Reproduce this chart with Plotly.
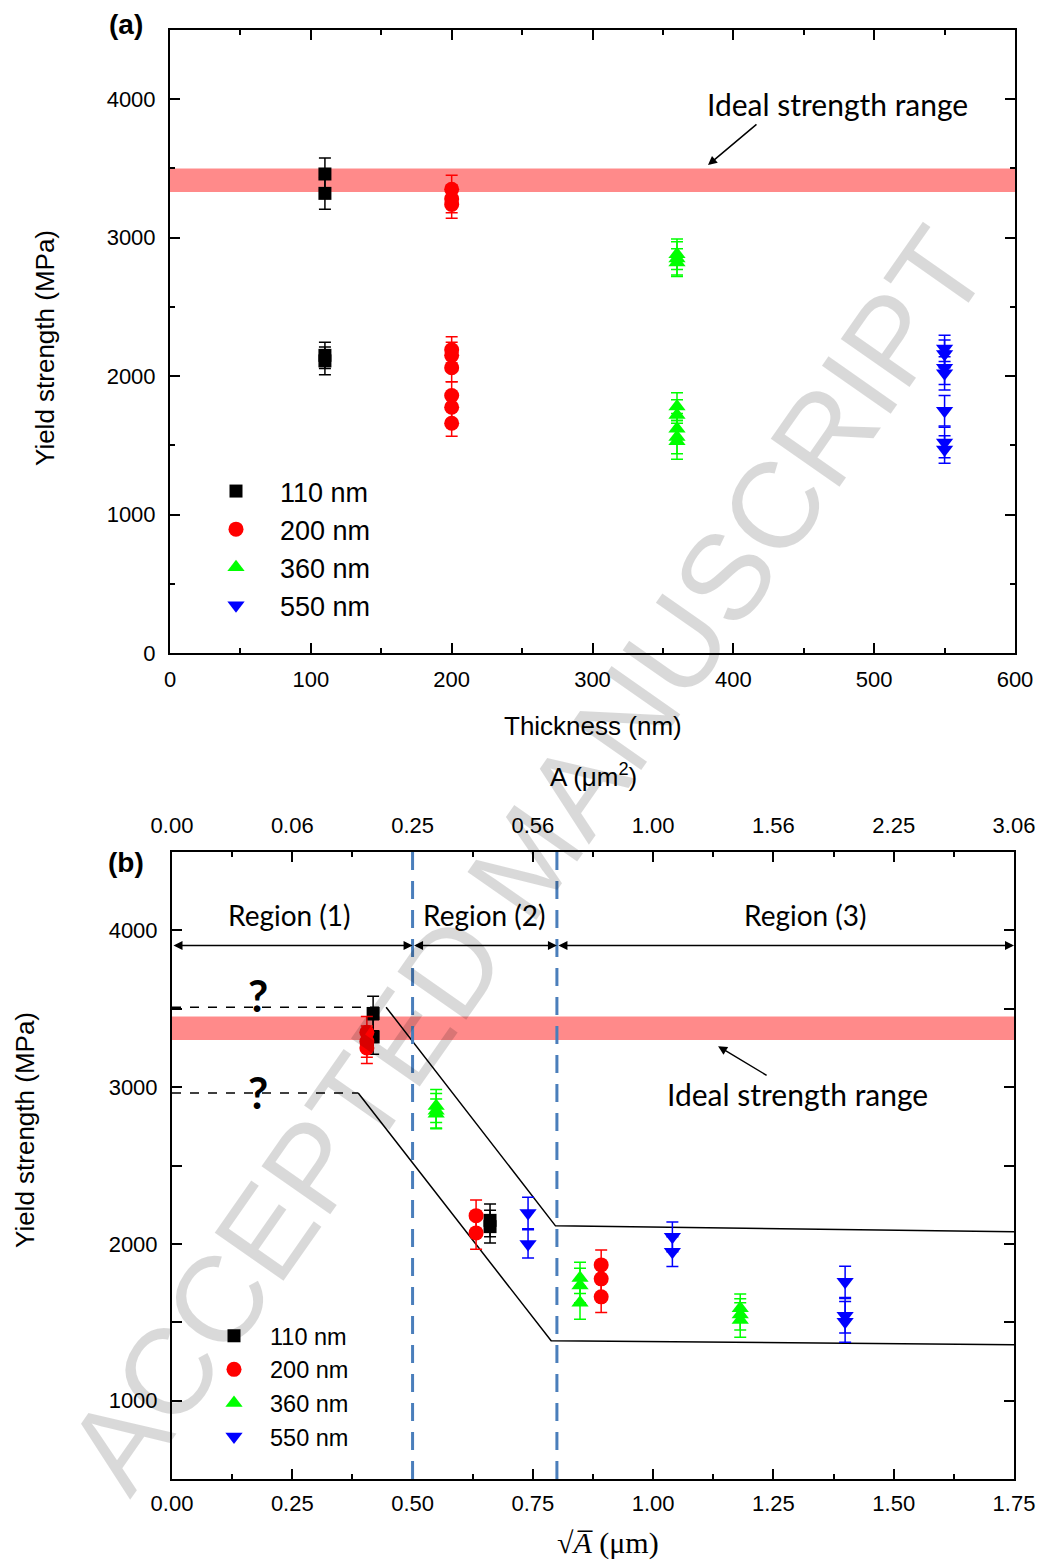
import plotly.graph_objects as go

W, H = 1041, 1565

# ---------------- Data: panel (a) ----------------
a_110_x = [110, 110, 110, 110]
a_110_y = [3460, 3320, 2150, 2110]
a_110_e = [115, 115, 95, 100]

a_200_x = [200] * 9
a_200_y = [3350, 3280, 3240, 2190, 2150, 2060, 1860, 1775, 1660]
a_200_e = [100, 100, 100, 95, 95, 100, 100, 100, 95]

a_360_x = [360] * 8
a_360_y = [2880, 2850, 2820, 1780, 1720, 1620, 1560, 1530]
a_360_e = [110, 120, 100, 100, 110, 110, 120, 130]

a_550_x = [550] * 7
a_550_y = [2200, 2160, 2060, 2020, 1750, 1520, 1470]
a_550_e = [95, 100, 120, 120, 110, 110, 100]

a_band = [3330, 3500]

# ---------------- Data: panel (b) ----------------
b_110_x = [0.418, 0.418, 0.661, 0.661]
b_110_y = [3470, 3320, 2150, 2110]
b_110_e = [110, 110, 105, 105]

b_200_x = [0.405, 0.405, 0.405, 0.632, 0.632, 0.892, 0.892, 0.892]
b_200_y = [3350, 3290, 3250, 2180, 2070, 1866, 1777, 1662]
b_200_e = [100, 100, 100, 100, 105, 95, 100, 100]

b_360_x = [0.549, 0.549, 0.549, 0.848, 0.848, 0.848, 1.181, 1.181, 1.181]
b_360_y = [2880, 2850, 2830, 1783, 1735, 1624, 1590, 1550, 1515]
b_360_e = [105, 110, 95, 100, 110, 105, 90, 100, 110]

b_550_x = [0.740, 0.740, 1.040, 1.040, 1.399, 1.399, 1.399]
b_550_y = [2197, 2000, 2045, 1950, 1758, 1541, 1503]
b_550_e = [100, 90, 95, 95, 100, 110, 130]

b_band = [3300, 3450]

upper_solid_x = [0.445, 0.797, 1.75]
upper_solid_y = [3510, 2115, 2077]
lower_solid_x = [0.387, 0.788, 1.75]
lower_solid_y = [2962, 1382, 1357]
upper_dash_x = [0.0, 0.445]
upper_dash_y = [3510, 3510]
lower_dash_x = [0.0, 0.387]
lower_dash_y = [2962, 2962]

region_bounds = [0.0, 0.5, 0.8, 1.75]
region_labels = ["Region (1)", "Region (2)", "Region (3)"]
region_label_x = [0.245, 0.649, 1.316]

b_ticks = [0, 0.25, 0.5, 0.75, 1.0, 1.25, 1.5, 1.75]
a_top_labels = ["0.00", "0.06", "0.25", "0.56", "1.00", "1.56", "2.25", "3.06"]

legend_names = ["110 nm", "200 nm", "360 nm", "550 nm"]
colors = ["#000000", "#ff0000", "#00ff00", "#0000ff"]
symbols = ["square", "circle", "triangle-up", "triangle-down"]
sizes = [13, 15, 15, 15]

def px(x):
    return x / W

def py(y):
    return 1 - y / H

fig = go.Figure()

a_sets = [(a_110_x, a_110_y, a_110_e), (a_200_x, a_200_y, a_200_e),
          (a_360_x, a_360_y, a_360_e), (a_550_x, a_550_y, a_550_e)]
b_sets = [(b_110_x, b_110_y, b_110_e), (b_200_x, b_200_y, b_200_e),
          (b_360_x, b_360_y, b_360_e), (b_550_x, b_550_y, b_550_e)]

for i, (xs, ys, es) in enumerate(a_sets):
    fig.add_trace(go.Scatter(
        x=xs, y=ys, mode="markers", name=legend_names[i], legend="legend",
        marker=dict(symbol=symbols[i], size=sizes[i], color=colors[i], line=dict(width=0)),
        error_y=dict(type="data", array=es, color=colors[i], thickness=1.5, width=6),
        xaxis="x", yaxis="y"))

# lines in panel (b)
for xs, ys, dash in [(upper_dash_x, upper_dash_y, "dash"), (lower_dash_x, lower_dash_y, "dash"),
                     (upper_solid_x, upper_solid_y, "solid"), (lower_solid_x, lower_solid_y, "solid")]:
    fig.add_trace(go.Scatter(x=xs, y=ys, mode="lines", showlegend=False,
                             line=dict(color="black", width=1.5, dash=dash),
                             xaxis="x2", yaxis="y2", hoverinfo="skip"))

for i, (xs, ys, es) in enumerate(b_sets):
    fig.add_trace(go.Scatter(
        x=xs, y=ys, mode="markers", name=legend_names[i], legend="legend2",
        marker=dict(symbol=symbols[i], size=sizes[i], color=colors[i], line=dict(width=0)),
        error_y=dict(type="data", array=es, color=colors[i], thickness=1.5, width=6),
        xaxis="x2", yaxis="y2"))

# dummy trace to activate top axis
fig.add_trace(go.Scatter(x=[0, 1.75], y=[None, None], xaxis="x3", yaxis="y2",
                         showlegend=False, hoverinfo="skip", mode="markers"))

FONT = "Liberation Sans, Arial, sans-serif"
LFONT = "Lato, Carlito, sans-serif"

axis_common = dict(showline=True, linewidth=2, linecolor="black", mirror="allticks",
                   ticks="inside", ticklen=10, tickwidth=1.5, tickcolor="black",
                   showgrid=False, zeroline=False, automargin=False,
                   tickfont=dict(family=FONT, size=22, color="black"))

fig.update_layout(
    template="none",
    width=W, height=H,
    margin=dict(l=0, r=0, t=0, b=0, pad=0),
    paper_bgcolor="white", plot_bgcolor="white",
    xaxis=dict(domain=[px(170), px(1015)], range=[0, 600], dtick=100, tick0=0,
               anchor="y", ticklabelstandoff=6,
               minor=dict(dtick=50, ticks="inside", ticklen=5, tickwidth=1.5, tickcolor="black"),
               **axis_common),
    yaxis=dict(domain=[py(653), py(30)], range=[0, 4500], dtick=1000, tick0=0,
               anchor="x", ticklabelstandoff=8,
               minor=dict(dtick=500, ticks="inside", ticklen=5, tickwidth=1.5, tickcolor="black"),
               **axis_common),
    xaxis2=dict(domain=[px(172), px(1014)], range=[0, 1.75], tickvals=b_ticks,
                tickformat=".2f", anchor="y2", ticklabelstandoff=4,
                minor=dict(dtick=0.125, tick0=0, ticks="inside", ticklen=5, tickwidth=1.5, tickcolor="black"),
                **axis_common),
    yaxis2=dict(domain=[py(1479), py(852)], range=[500, 4500], dtick=1000, tick0=0,
                anchor="x2", ticklabelstandoff=8,
                minor=dict(dtick=500, tick0=0, ticks="inside", ticklen=5, tickwidth=1.5, tickcolor="black"),
                **axis_common),
    xaxis3=dict(overlaying="x2", side="top", anchor="y2", range=[0, 1.75],
                tickvals=b_ticks, ticktext=a_top_labels, showline=False, ticks="",
                showgrid=False, zeroline=False, ticklabelstandoff=14, automargin=False,
                tickfont=dict(family=FONT, size=22, color="black")),
    legend=dict(x=px(192), y=py(467), xanchor="left", yanchor="top", itemwidth=78,
                bgcolor="rgba(0,0,0,0)", font=dict(family=FONT, size=27, color="black"),
                tracegroupgap=0, itemsizing="trace"),
    legend2=dict(x=px(198), y=py(1314), xanchor="left", yanchor="top", itemwidth=62,
                 bgcolor="rgba(0,0,0,0)", font=dict(family=FONT, size=23.5, color="black"),
                 tracegroupgap=0, itemsizing="trace"),
    showlegend=True,
)

shapes = []
shapes.append(dict(type="rect", xref="x domain", yref="y", x0=0, x1=1, y0=a_band[0], y1=a_band[1],
                   fillcolor="rgba(255,0,0,0.46)", line=dict(width=0), layer="below"))
shapes.append(dict(type="rect", xref="x2 domain", yref="y2", x0=0, x1=1, y0=b_band[0], y1=b_band[1],
                   fillcolor="rgba(255,0,0,0.46)", line=dict(width=0), layer="below"))
for xv in region_bounds[1:3]:
    shapes.append(dict(type="line", xref="x2", yref="y2 domain", x0=xv, x1=xv, y0=0, y1=1,
                       line=dict(color="#4a7ebb", width=3, dash="18px,11px")))
fig.update_layout(shapes=shapes)

ann = []
def txt(x, y, text, size, family=FONT, angle=0, color="black", bold=False):
    ann.append(dict(x=px(x), y=py(y), xref="paper", yref="paper", text=("<b>%s</b>" % text) if bold else text,
                    showarrow=False, xanchor="center", yanchor="middle", textangle=angle,
                    font=dict(family=family, size=size, color=color)))

txt(126, 25, "(a)", 28, bold=True)
txt(126, 862, "(b)", 28, bold=True)
txt(593, 726, "Thickness (nm)", 26)
txt(45, 348, "Yield strength (MPa)", 26, angle=-90)
txt(25, 1130, "Yield strength (MPa)", 26, angle=-90)
txt(593, 775, "A (\u03bcm<sup>2</sup>)", 26)
txt(608, 1543, "\u221a<i>A\u0305</i> (\u03bcm)", 30, family="Liberation Serif, serif")

# ideal strength range annotations
ann.append(dict(x=474, y=3964, xref="x", yref="y", text="Ideal strength range", showarrow=False,
                font=dict(family=LFONT, size=30, color="black")))
ann.append(dict(x=382, y=3524, xref="x", yref="y", ax=50, ay=-42, text="", showarrow=True,
                arrowhead=2, arrowsize=1.2, arrowwidth=1.5, arrowcolor="black"))
ann.append(dict(x=1.301, y=2955, xref="x2", yref="y2", text="Ideal strength range", showarrow=False,
                font=dict(family=LFONT, size=30, color="black")))
ann.append(dict(x=1.135, y=3261, xref="x2", yref="y2", ax=50, ay=30, text="", showarrow=True,
                arrowhead=2, arrowsize=1.2, arrowwidth=1.5, arrowcolor="black"))

# region arrows and labels
for i in range(3):
    ann.append(dict(x=region_bounds[i + 1], y=3904, ax=region_bounds[i], ay=3904,
                    xref="x2", yref="y2", axref="x2", ayref="y2", text="", showarrow=True,
                    arrowhead=2, startarrowhead=2, arrowside="end+start", arrowsize=1.2,
                    startarrowsize=1.2, arrowwidth=1.5, arrowcolor="black", standoff=0, startstandoff=0))
    ann.append(dict(x=region_label_x[i], y=4096, xref="x2", yref="y2", text=region_labels[i],
                    showarrow=False, font=dict(family=LFONT, size=28, color="black")))

# question marks
for yv in [3590, 2970]:
    ann.append(dict(x=0.179, y=yv, xref="x2", yref="y2", text="<b>?</b>", showarrow=False,
                    font=dict(family=LFONT, size=44, color="black")))

# watermark
txt(527, 860, "ACCEPTED MANUSCRIPT", 122, angle=-55, color="rgba(0,0,0,0.15)")

fig.update_layout(annotations=ann)
fig.write_html("out.html")
